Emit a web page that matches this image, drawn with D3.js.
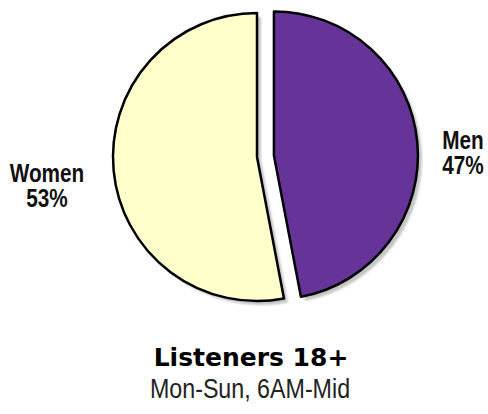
<!DOCTYPE html>
<html>
<head>
<meta charset="utf-8">
<script src="https://cdn.jsdelivr.net/npm/d3@7"></script>
<style>
  body { margin: 0; background: #fff; }
  svg { display: block; }
</style>
</head>
<body>
<svg width="488" height="414"></svg>
<script>
// audience split
const groups = ['Men', 'Women'];
const shares = [47, 53];
const colors = ['#663399', '#ffffcc'];
const title = 'Listeners 18+';
const subtitle = 'Mon-Sun, 6AM-Mid';

const svg = d3.select('svg');
const cx = 257, cy = 157, radius = 144;
const explode = 17;
const narrow = 0.83; // no narrow font installed, squeeze instead

const data = groups.map((g, i) => ({ name: g, value: shares[i], color: colors[i] }));

const pie = d3.pie().sort(null).value((d) => d.value);
const arc = d3.arc().innerRadius(0).outerRadius(radius);
const arcs = pie(data);

// push the Men slice out along its middle angle
const offset = (d) => {
  if (d.data.name !== 'Men') return [0, 0];
  const a = (d.startAngle + d.endAngle) / 2;
  return [Math.sin(a) * explode, -Math.cos(a) * explode];
};

const defs = svg.append('defs');
defs.append('filter').attr('id', 'soft')
  .append('feGaussianBlur').attr('stdDeviation', 1);

const g = svg.append('g').attr('transform', `translate(${cx},${cy})`);

// drop shadow
g.selectAll('path.shadow')
  .data(arcs)
  .enter()
  .append('path')
  .attr('class', 'shadow')
  .attr('d', arc)
  .attr('fill', '#c4c4c4')
  .attr('filter', 'url(#soft)')
  .attr('transform', (d) => {
    const [dx, dy] = offset(d);
    return `translate(${dx + 4},${dy + 4})`;
  });

g.selectAll('path.slice')
  .data(arcs)
  .enter()
  .append('path')
  .attr('class', 'slice')
  .attr('d', arc)
  .attr('fill', (d) => d.data.color)
  .attr('stroke', '#000')
  .attr('stroke-width', 2.5)
  .attr('stroke-linejoin', 'round')
  .attr('transform', (d) => {
    const [dx, dy] = offset(d);
    return `translate(${dx},${dy})`;
  });

// condensed text helper
function narrowText(x, y, str, size, weight, fill) {
  svg.append('text')
    .attr('transform', `translate(${x},${y}) scale(${narrow},1)`)
    .attr('text-anchor', 'middle')
    .attr('font-family', '"Liberation Sans", Arial, sans-serif')
    .attr('font-weight', weight)
    .attr('font-size', size)
    .attr('fill', fill)
    .text(str);
}

// side labels
const labelPos = { Men: [463, 149], Women: [47, 182] };
data.forEach((d) => {
  const [x, y] = labelPos[d.name];
  narrowText(x, y, d.name, 25, 'bold', '#111');
  narrowText(x, y + 25, d.value + '%', 25, 'bold', '#111');
});

svg.append('text')
  .attr('x', 251)
  .attr('y', 366)
  .attr('text-anchor', 'middle')
  .attr('font-family', '"DejaVu Sans", sans-serif')
  .attr('font-weight', 'bold')
  .attr('font-size', 25)
  .attr('fill', '#000')
  .text(title);

narrowText(250, 398, subtitle, 28, 'normal', '#222');
</script>
</body>
</html>
